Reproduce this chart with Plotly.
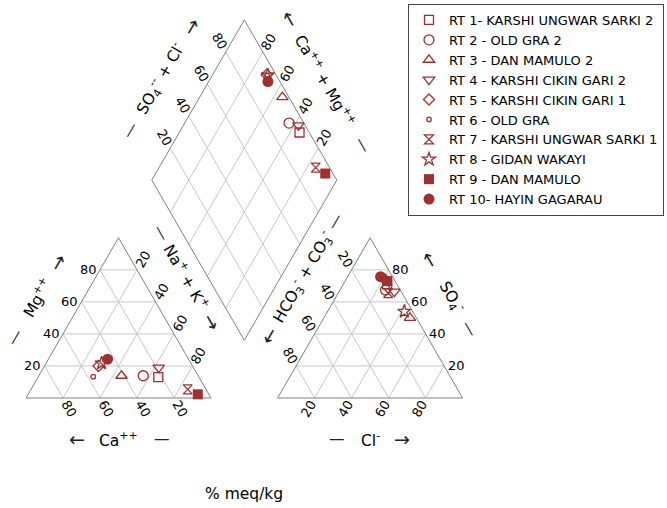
import numpy as np
import plotly.graph_objects as go

# ---------------- data (% meq/kg) ----------------
sites = ["RT 1- KARSHI UNGWAR SARKI 2", "RT 2 - OLD GRA 2", "RT 3 - DAN MAMULO 2",
         "RT 4 - KARSHI CIKIN GARI 2", "RT 5 - KARSHI CIKIN GARI 1", "RT 6 - OLD GRA",
         "RT 7 - KARSHI UNGWAR SARKI 1", "RT 8 - GIDAN WAKAYI", "RT 9 - DAN MAMULO",
         "RT 10- HAYIN GAGARAU"]
ca   = [22.0, 29.7, 41.4, 18.8, 50.8, 57.0, 9.9, 48.3, 6.0, 43.8]
mg   = [13.0, 13.9, 13.9, 19.0, 20.0, 13.3, 5.4, 21.7, 2.3, 24.2]
nak  = [65.0, 56.4, 44.7, 62.2, 29.2, 29.7, 84.7, 30.0, 91.7, 32.0]
hco3 = [5.3, 8.0, 3.5, 3.7, 5.0, 5.0, 7.5, 4.5, 4.2, 6.5]
cl   = [23.7, 24.6, 46.5, 29.9, 21.0, 20.0, 27.0, 41.5, 22.8, 17.8]
so4  = [71.0, 67.4, 50.0, 66.4, 74.0, 75.0, 65.5, 54.0, 73.0, 75.7]
ticks = [20, 40, 60, 80]

symbols = ["square-open", "circle-open", "triangle-up-open", "triangle-down-open",
           "diamond-open", "circle-open", "hourglass-open", "star-open", "square", "circle"]
sizes = [9, 10, 10, 10, 8.5, 4.5, 9, 10, 10, 11]
COL = "#9e3030"

# ---------------- geometry ----------------
H = np.sqrt(3) / 2
G = 0.36
OX = 1 + G
BX, BY = 1 + G / 2, G * H
P = 1 / 185.0  # one pixel in data units
FONT = "DejaVu Sans"

def cat_xy(n, m):
    return (n / 100 + m / 200, m / 100 * H)

def an_xy(c, s):
    return (OX + c / 100 + s / 200, s / 100 * H)

def dia_xy(c, s):
    return (BX + 0.5 * (s - c), BY + H * (s + c))

def add(pt, d, k):
    return (pt[0] + d[0] * k * P, pt[1] + d[1] * k * P)

fig = go.Figure()

# grid lines
gx, gy = [], []
def seg(a, b, X, Y):
    X += [a[0], b[0], None]
    Y += [a[1], b[1], None]

for t in ticks:
    k = t
    seg(cat_xy(0, k), cat_xy(100 - k, k), gx, gy)
    seg(cat_xy(k, 0), cat_xy(k, 100 - k), gx, gy)
    seg(cat_xy(100 - k, 0), cat_xy(0, 100 - k), gx, gy)
    seg(an_xy(0, k), an_xy(100 - k, k), gx, gy)
    seg(an_xy(k, 0), an_xy(k, 100 - k), gx, gy)
    seg(an_xy(100 - k, 0), an_xy(0, 100 - k), gx, gy)
    seg(dia_xy(k / 100, 0), dia_xy(k / 100, 1), gx, gy)
    seg(dia_xy(0, k / 100), dia_xy(1, k / 100), gx, gy)
fig.add_trace(go.Scatter(x=gx, y=gy, mode="lines", line=dict(color="#c8c8c8", width=1),
                         showlegend=False, hoverinfo="skip"))

ox, oy = [], []
for poly in ([cat_xy(0, 0), cat_xy(100, 0), cat_xy(0, 100), cat_xy(0, 0)],
             [an_xy(0, 0), an_xy(100, 0), an_xy(0, 100), an_xy(0, 0)],
             [dia_xy(0, 0), dia_xy(0, 1), dia_xy(1, 1), dia_xy(1, 0), dia_xy(0, 0)]):
    ox += [p[0] for p in poly] + [None]
    oy += [p[1] for p in poly] + [None]
fig.add_trace(go.Scatter(x=ox, y=oy, mode="lines", line=dict(color="#808080", width=1),
                         showlegend=False, hoverinfo="skip"))

# data points
for i, name in enumerate(sites):
    p1 = cat_xy(nak[i], mg[i])
    p2 = an_xy(cl[i], so4[i])
    p3 = dia_xy((ca[i] + mg[i]) / 100, (cl[i] + so4[i]) / 100)
    filled = not symbols[i].endswith("open")
    fig.add_trace(go.Scatter(
        x=[p1[0], p2[0], p3[0]], y=[p1[1], p2[1], p3[1]], mode="markers", name=name,
        marker=dict(symbol=symbols[i], size=sizes[i], color=COL,
                    line=dict(color=COL, width=0 if filled else 1.3)),
        hoverinfo="name"))

ann = []
def label(pt, text, angle=0, size=13, color="black"):
    ann.append(dict(x=pt[0], y=pt[1], text=text, showarrow=False, textangle=angle,
                    xanchor="center", yanchor="middle",
                    font=dict(family=FONT, size=size, color=color)))

# tick labels
for t in ticks:
    label(add(cat_xy(0, t), (-1, 0), 12), str(t))
    label(add(cat_xy(100 - t, 0), (0.5, -H), 12), str(t), 60)
    label(add(cat_xy(t, 100 - t), (0.5, H), 12), str(t), -60)
    label(add(an_xy(100 - t, t), (1, 0), 12), str(t))
    label(add(an_xy(t, 0), (-0.5, -H), 12), str(t), -60)
    label(add(an_xy(0, 100 - t), (-0.5, H), 12), str(t), 60)
    label(add(dia_xy(1, t / 100), (-0.5, H), 12), str(t), 60)
    label(add(dia_xy(t / 100, 1), (0.5, H), 12), str(t), -60)

TS = 15.5
def title(center, u, text, angle, a_txt, a_d, d_d):
    label(center, text, angle, TS)
    label(add(center, u, a_d), a_txt, angle, 19, "#222222")
    label(add(center, u, d_d), "\u2014", angle, TS, "#222222")

# Mg (left edge of cation triangle)
c = add((0.25, H / 2), (-H, 0.5), 40)
title(c, (0.5, H), "Mg<sup>++</sup>", -60, "\u2192", 41, -45)
# Ca (bottom)
c = add((0.5, 0), (0, -1), 41)
title(c, (1, 0), "Ca<sup>++</sup>", 0, "\u2190", -42, 43)
# Na + K (right edge)
c = add(add((0.75, H / 2), (H, 0.5), 39), (-0.5, H), 25)
title(c, (-0.5, H), "Na<sup>+</sup> + K<sup>+</sup>", 60, "\u2192", -52, 50)
# HCO3 + CO3 (left edge of anion triangle)
c = add(add((OX + 0.25, H / 2), (-H, 0.5), 38.5), (0.5, H), 24.6)
title(c, (0.5, H), "HCO<sub>3</sub><sup>-</sup> + CO<sub>3</sub><sup>-</sup>", -60, "\u2190", -67, 65)
# SO4 (right edge of anion triangle)
c = add((OX + 0.75, H / 2), (H, 0.5), 41)
title(c, (-0.5, H), "SO<sub>4</sub><sup>-</sup>", 60, "\u2190", 43, -36)
# Cl (bottom of anion triangle)
c = add((OX + 0.5, 0), (0, -1), 41)
title(c, (1, 0), "Cl<sup>-</sup>", 0, "\u2192", 32, -33)
# diamond left
c = add(dia_xy(1, 0.5), (-H, 0.5), 43)
title(c, (0.5, H), "SO<sub>4</sub><sup>--</sup> + Cl<sup>-</sup>", -60, "\u2192", 60, -60)
# diamond right
c = add(dia_xy(0.5, 1), (H, 0.5), 40)
title(c, (-0.5, H), "Ca<sup>++</sup> + Mg<sup>++</sup>", 60, "\u2190", 70, -75)

# units
ann.append(dict(x=(244 - 26) * P, y=(398 - 494) * P, text="% meq/kg", showarrow=False,
                xanchor="center", yanchor="middle",
                font=dict(family=FONT, size=TS, color="black")))

fig.update_layout(
    width=667, height=508, autosize=False,
    margin=dict(l=0, r=0, t=0, b=0),
    paper_bgcolor="white", plot_bgcolor="white",
    xaxis=dict(visible=False, range=[-26 * P, (667 - 26) * P], fixedrange=True),
    yaxis=dict(visible=False, range=[(398 - 508) * P, 398 * P], fixedrange=True),
    annotations=ann,
    showlegend=True,
    legend=dict(x=408 / 667, y=1 - 4 / 508, xanchor="left", yanchor="top",
                bordercolor="#444444", borderwidth=1, bgcolor="white",
                font=dict(family=FONT, size=13, color="black"),
                tracegroupgap=0, itemsizing="trace"),
)

fig.write_html("out.html", config={"displayModeBar": False},
               post_script="document.body.style.margin='0';document.body.style.overflow='hidden';")
